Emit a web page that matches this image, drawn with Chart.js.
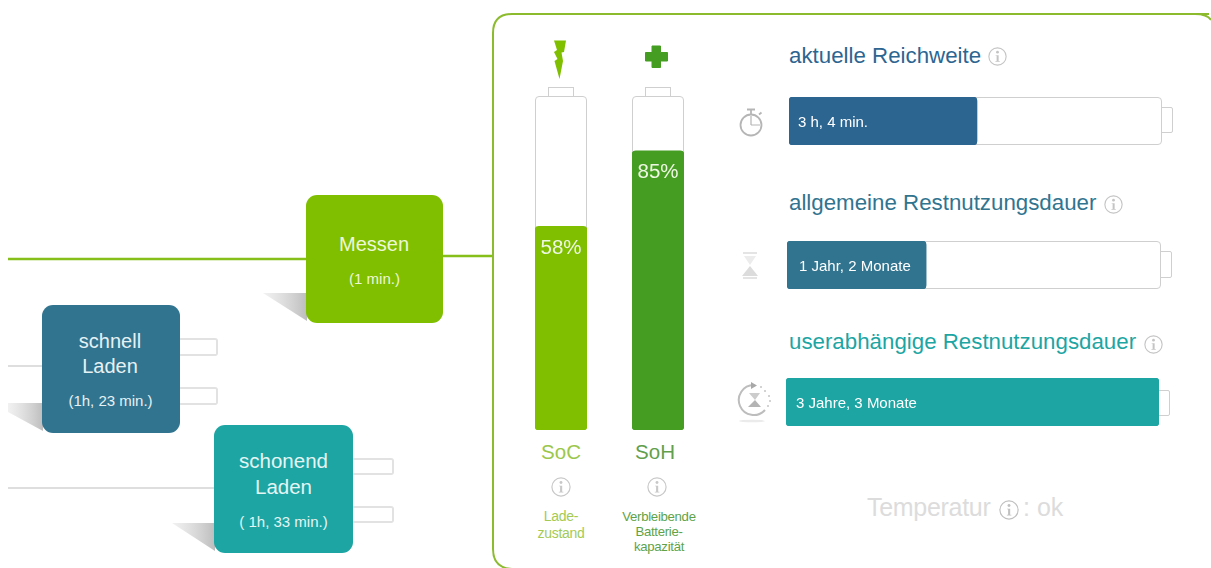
<!DOCTYPE html>
<html lang="de">
<head>
<meta charset="utf-8">
<title>Batterie</title>
<script src="https://cdn.jsdelivr.net/npm/chart.js@4"></script>
<style>
html,body{margin:0;padding:0;background:#fff;width:1211px;height:568px;overflow:hidden;font-family:"Liberation Sans",Arial,sans-serif}
#stage{position:absolute;left:0;top:0;width:1211px;height:568px;overflow:hidden}
svg.bg{position:absolute;left:0;top:0}
.t{position:absolute;white-space:nowrap;line-height:1}
.c{transform:translate(-50%,-50%);text-align:center}
.l{transform:translateY(-50%)}
.box{position:absolute;border-radius:11px}
.bat{position:absolute;box-sizing:border-box;border:1px solid #cfcfcf;border-radius:4px;background:#fff}
.cap{position:absolute;box-sizing:border-box;border:1px solid #cfcfcf;background:#fff}
.conn{position:absolute;box-sizing:border-box;border:2px solid #e2e2e2;border-left:none;border-radius:0 3px 3px 0;background:#fff}
.chartwrap{position:absolute}
canvas{display:block}
</style>
</head>
<body>
<div id="stage">
<svg class="bg" width="1211" height="568" viewBox="0 0 1211 568" xmlns="http://www.w3.org/2000/svg">
  <defs>
    <linearGradient id="sh" x1="0" x2="1" y1="0" y2="0">
      <stop offset="0" stop-color="#d8d8d8" stop-opacity=".35"/>
      <stop offset="1" stop-color="#bdbdbd"/>
    </linearGradient>
  </defs>
  <!-- connector lines -->
  <line x1="8" y1="259" x2="306" y2="259" stroke="#86bf1a" stroke-width="2.4"/>
  <line x1="443" y1="256" x2="493" y2="256" stroke="#86bf1a" stroke-width="2.4"/>
  <line x1="8" y1="366" x2="42" y2="366" stroke="#dedede" stroke-width="2"/>
  <line x1="8" y1="488" x2="214" y2="488" stroke="#dedede" stroke-width="2"/>
  <!-- box shadows -->
  <polygon points="263,293 307,293 307,321" fill="url(#sh)"/>
  <polygon points="8,403 43,403 43,431 8,412" fill="url(#sh)"/>
  <polygon points="172,523 215,523 215,551" fill="url(#sh)"/>
  <!-- panel -->
  <path d="M1209 14 H512 Q493 14 493 33 V549 Q493 568 512 569" fill="none" stroke="#8cbb2e" stroke-width="2"/>
  <path d="M1195 14 Q1207 14 1211 20" fill="none" stroke="#8cbb2e" stroke-width="2"/>
  <!-- lightning -->
  <polygon points="554,40.5 566,40.5 564,52 561.5,52.5 563,61 559.5,79 554.5,61 557.5,59 554,52 557,50" fill="#7fbf00"/>
  <!-- plus -->
  <path d="M652 46 H660.5 V52.5 H667.5 V61 H660.5 V67.5 H652 V61 H645.5 V52.5 H652 Z" fill="#459e22" stroke="#459e22" stroke-width="1" stroke-linejoin="round"/>
  <!-- stopwatch -->
  <g fill="none" stroke="#b5b5b5" stroke-width="1.8">
    <circle cx="751" cy="125" r="10.5"/>
    <path d="M751 125 V116 M751 125 H760" stroke-width="1.2"/>
    <path d="M747 109.5 H755 M751 109.5 V114 M759 114.5 L761.5 112.5"/>
  </g>
  <!-- hourglass -->
  <g>
    <rect x="743" y="252" width="14" height="2" fill="#e4e4e4"/>
    <rect x="743" y="277" width="14" height="2" fill="#e4e4e4"/>
    <polygon points="744,256 756,256 750,265" fill="#ececec"/>
    <polygon points="742,276 758,276 750,266" fill="#dcdcdc"/>
  </g>
  <!-- circular hourglass -->
  <g>
    <path d="M754 385 A15 15 0 1 0 765 410" fill="none" stroke="#bdbdbd" stroke-width="2"/>
    <path d="M751 382 L757 385.5 L751 389 Z" fill="#a8a8a8"/>
    <polygon points="749,393 760,393 755,400" fill="#cccccc"/>
    <polygon points="748,407 761,407 755,400" fill="#b4b4b4"/>
    <g fill="#c4c4c4"><circle cx="761" cy="387" r="1"/><circle cx="765" cy="391" r="1"/><circle cx="769" cy="396" r="1"/><circle cx="770" cy="401" r="1"/><circle cx="768" cy="406" r="1"/></g>
    <ellipse cx="752" cy="421" rx="13" ry="1.3" fill="#ebebeb"/>
  </g>
</svg>
<div id="layer"></div>
</div>
<script>
// ---- values ----
// Drawn fill height of the two vertical batteries, in percent of the battery body
const stateLabels = ['SoC', 'SoH'];
const stateFill = [61, 83.6];
const statePrinted = ['58%', '85%'];
const stateColors = ['#7fbf00', '#459e22'];
const stateCaptions = [['Lade-', 'zustand'], ['Verbleibende', 'Batterie-', 'kapazität']];

// Drawn fill length of the three horizontal batteries, in percent of the battery body
const rangeTitles = ['aktuelle Reichweite', 'allgemeine Restnutzungsdauer', 'userabhängige Restnutzungsdauer'];
const rangeFill = [50.4, 37.2, 100];
const rangePrinted = ['3 h, 4 min.', '1 Jahr, 2 Monate', '3 Jahre, 3 Monate'];
const rangeColors = ['#2d6591', '#31748f', '#1ca5a3'];

// Process boxes
const stepNames = [['Messen'], ['schnell', 'Laden'], ['schonend', 'Laden']];
const stepTimes = ['(1 min.)', '(1h, 23 min.)', '( 1h, 33 min.)'];
const stepColors = ['#7fbf00', '#31748f', '#1ca5a3'];

// ---- layout ----
const layer = document.getElementById('layer');
function el(cls, css, html) {
  const d = document.createElement('div');
  d.className = cls;
  Object.assign(d.style, css);
  if (html !== undefined) d.innerHTML = html;
  layer.appendChild(d);
  return d;
}
function text(str, x, y, size, color, anchor, extra) {
  return el('t ' + (anchor || 'c'), Object.assign({left: x + 'px', top: y + 'px', fontSize: size + 'px', color}, extra || {}), str);
}
function info(x, y, r, color) {
  const s = r * 2 + 2;
  el('t', {left: (x - s / 2) + 'px', top: (y - s / 2) + 'px', width: s + 'px', height: s + 'px'},
    `<svg width="${s}" height="${s}" viewBox="0 0 22 22"><circle cx="11" cy="11" r="10" fill="none" stroke="${color}" stroke-width="1.3"/><circle cx="11" cy="6" r="1.6" fill="${color}"/><path d="M8.8 9.5H12.3V16.3H13.6V17H8.6V16.3H10V10.2H8.8Z" fill="${color}"/></svg>`);
}
function px(o) { const r = {}; for (const k in o) r[k] = o[k] + 'px'; return r; }

const valueLabels = {
  id: 'valueLabels',
  afterDatasetsDraw(chart, args, opts) {
    const bar = chart.getDatasetMeta(0).data[0];
    const ctx = chart.ctx;
    ctx.save();
    ctx.fillStyle = opts.color;
    ctx.font = opts.font;
    ctx.textBaseline = 'middle';
    if (opts.vertical) {
      ctx.textAlign = 'center';
      ctx.fillText(opts.text, bar.x, bar.y + opts.offset);
    } else {
      ctx.textAlign = 'left';
      ctx.fillText(opts.text, opts.offset, bar.y + 1.5);
    }
    ctx.restore();
  }
};

function barChart(box, vertical, label, value, color, printed, labelFont, labelColor, offset) {
  const wrap = el('chartwrap', px({left: box.x, top: box.y, width: box.w, height: box.h}));
  const cv = document.createElement('canvas');
  cv.width = box.w; cv.height = box.h;
  cv.style.width = box.w + 'px'; cv.style.height = box.h + 'px';
  wrap.appendChild(cv);
  const valueAxis = {display: false, min: 0, max: 100};
  const catAxis = {display: false};
  return new Chart(cv, {
    type: 'bar',
    data: {labels: [label], datasets: [{label, data: [value], backgroundColor: color,
      borderRadius: 4, borderSkipped: false, barPercentage: 1, categoryPercentage: 1}]},
    options: {
      indexAxis: vertical ? 'x' : 'y',
      responsive: false, animation: false,
      layout: {padding: 0},
      scales: vertical ? {x: catAxis, y: valueAxis} : {x: valueAxis, y: catAxis},
      plugins: {legend: {display: false}, tooltip: {enabled: false},
        valueLabels: {text: printed, font: labelFont, color: labelColor, vertical, offset}}
    },
    plugins: [valueLabels]
  });
}

// process boxes
const boxes = [
  {x: 306, y: 195, w: 137, h: 128},
  {x: 42, y: 305, w: 138, h: 128},
  {x: 214, y: 425, w: 139, h: 128}
];
const conns = [
  {x: 179, y: 338, w: 39, h: 18}, {x: 179, y: 387, w: 39, h: 18},
  {x: 353, y: 458, w: 41, h: 17}, {x: 353, y: 506, w: 41, h: 17}
];
conns.forEach(c => el('conn', px({left: c.x, top: c.y, width: c.w, height: c.h})));
boxes.forEach((b, i) => el('box', Object.assign(px({left: b.x, top: b.y, width: b.w, height: b.h}), {background: stepColors[i]})));
text(stepNames[0][0], 374, 244, 20, '#eef7d8');
text(stepTimes[0], 374.5, 278, 15, '#eef7d8');
text(stepNames[1][0], 110, 341, 20, '#e6f1f4');
text(stepNames[1][1], 110, 366, 20, '#e6f1f4');
text(stepTimes[1], 110.5, 400, 15, '#e6f1f4');
text(stepNames[2][0], 283.5, 461, 20.5, '#e4f5f4');
text(stepNames[2][1], 283.5, 487, 20.5, '#e4f5f4');
text(stepTimes[2], 283.5, 521, 15, '#e4f5f4');

// vertical batteries
const vBat = [{x: 535, y: 96, w: 52, h: 334, capX: 548}, {x: 632, y: 96, w: 52, h: 334, capX: 645}];
vBat.forEach((b, i) => {
  el('cap', px({left: b.capX, top: 87, width: 26, height: 10}));
  el('bat', px({left: b.x, top: b.y, width: b.w, height: b.h}));
  barChart(b, true, stateLabels[i], stateFill[i], stateColors[i], statePrinted[i],
    '20.5px "Liberation Sans", Arial, sans-serif', '#eef7e2', 22);
});
text(stateLabels[0], 561, 452, 20.5, '#9cc74a');
text(stateLabels[1], 655, 452, 20.5, '#629f4c');
info(561, 487, 9, '#c8c8c8');
info(657, 487, 9, '#c8c8c8');
stateCaptions[0].forEach((s, i) => text(s, 561, 516 + i * 17, 14, '#a3ca55', 'c', {letterSpacing: '-.3px'}));
stateCaptions[1].forEach((s, i) => text(s, 659, 517 + i * 15, 13.2, '#5fa348', 'c', {letterSpacing: '-.3px'}));

// horizontal batteries
const hBat = [
  {x: 789, y: 97, w: 373, h: 48, capY: 107, capH: 26, titleY: 56, iconX: 997, iconY: 56, textX: 9},
  {x: 787, y: 241, w: 374, h: 48, capY: 251, capH: 27, titleY: 203, iconX: 1113, iconY: 204, textX: 12},
  {x: 786, y: 378, w: 373, h: 48, capY: 390, capH: 26, titleY: 342, iconX: 1153, iconY: 344, textX: 10}
];
hBat.forEach((b, i) => {
  el('cap', Object.assign(px({left: b.x + b.w - 1, top: b.capY, width: 12, height: b.capH}), {borderRadius: '0 2px 2px 0'}));
  el('bat', px({left: b.x, top: b.y, width: b.w, height: b.h}));
  barChart(b, false, rangeTitles[i], rangeFill[i], rangeColors[i], rangePrinted[i],
    '15px "Liberation Sans", Arial, sans-serif', '#ffffff', b.textX);
  text(rangeTitles[i], 789, b.titleY, 22.3, rangeColors[i], 'l');
  info(b.iconX, b.iconY, 8.5, '#c4c4c4');
});

// temperature line
text('Temperatur', 867, 507, 25, '#dcdcdc', 'l', {letterSpacing: '-.3px'});
info(1009, 510, 9, '#c0c0c0');
text(': ok', 1023, 507, 25, '#dcdcdc', 'l');
</script>
</body>
</html>
